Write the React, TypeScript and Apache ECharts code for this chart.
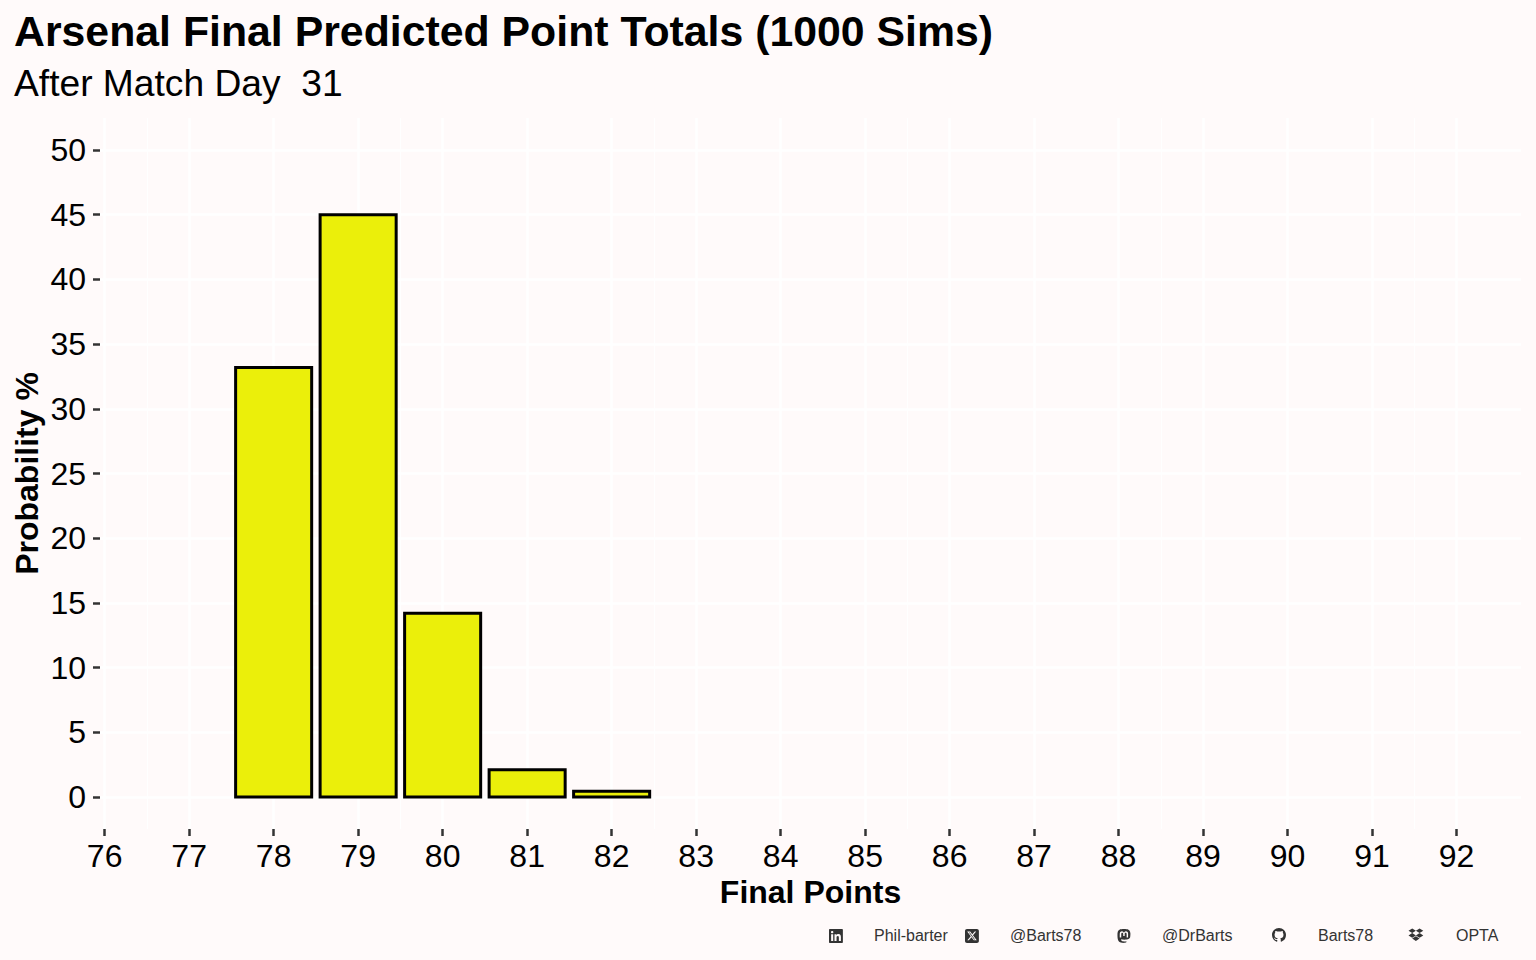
import React, { useEffect, useRef } from "react";
import * as echarts from "echarts";

const points = [78, 79, 80, 81, 82];
const probability = [33.2, 45, 14.2, 2.1, 0.45];
const xTicks = [76, 77, 78, 79, 80, 81, 82, 83, 84, 85, 86, 87, 88, 89, 90, 91, 92];
const yTicks = [0, 5, 10, 15, 20, 25, 30, 35, 40, 45, 50];
const titleText = "Arsenal Final Predicted Point Totals (1000 Sims)";
const subtitleText = "After Match Day  31";
const xName = "Final Points";
const yName = "Probability %";
const captions = ["Phil-barter", "@Barts78", "@DrBarts", "Barts78", "OPTA"];

const ICONS: Record<string, string> = {
  icLinkedin: "M416 32H31.9C14.3 32 0 46.5 0 64.3v383.4C0 465.5 14.3 480 31.9 480H416c17.6 0 32-14.5 32-32.3V64.3c0-17.8-14.4-32.3-32-32.3zM135.4 416H69V202.2h66.5V416zm-33.2-243c-21.3 0-38.5-17.3-38.5-38.5S80.9 96 102.2 96c21.2 0 38.5 17.3 38.5 38.5 0 21.3-17.2 38.5-38.5 38.5zm282.1 243h-66.4V312c0-24.8-.5-56.7-34.5-56.7-34.6 0-39.9 27-39.9 54.9V416h-66.4V202.2h63.7v29.2h.9c8.9-16.8 30.6-34.5 62.9-34.5 67.2 0 79.7 44.3 79.7 101.9V416z",
  icX: "M64 32C28.7 32 0 60.7 0 96V416c0 35.3 28.7 64 64 64H384c35.3 0 64-28.7 64-64V96c0-35.3-28.7-64-64-64H64zm297.1 84L257.3 234.6 379.4 396H283.8L209 298.1 123.3 396H75.8l111-126.9L69.7 116h98l67.7 89.5L313.6 116h47.5zM323.3 367.6L153.4 142.9H125.1L296.9 367.6h26.3z",
  icMastodon: "M433 179.11c0-97.2-63.71-125.7-63.71-125.7-62.52-28.7-228.56-28.4-290.48 0 0 0-63.72 28.5-63.72 125.7 0 115.7-6.6 259.4 105.63 289.1 40.51 10.7 75.32 13 103.33 11.4 50.81-2.8 79.32-18.1 79.32-18.1l-1.7-36.9s-36.31 11.4-77.12 10.1c-40.41-1.4-83-4.4-89.63-54a102.54 102.54 0 0 1-.9-13.9c85.63 20.9 158.65 9.1 178.75 6.7 56.12-6.7 105-41.3 111.23-72.9 9.8-49.8 9-121.5 9-121.5zm-75.12 125.2h-46.63v-114.2c0-49.7-64-51.6-64 6.9v62.5h-46.33V197c0-58.5-64-56.6-64-6.9v114.2H90.19c0-122.1-5.2-147.9 18.41-175 25.9-28.9 79.82-30.8 103.83 6.1l11.6 19.5 11.6-19.5c24.11-37.1 78.12-34.8 103.83-6.1 23.71 27.3 18.4 53 18.4 175z",
  icGithub: "M8 0C3.58 0 0 3.58 0 8c0 3.54 2.29 6.53 5.47 7.59.4.07.55-.17.55-.38 0-.19-.01-.82-.01-1.49-2.01.37-2.53-.49-2.69-.94-.09-.23-.48-.94-.82-1.13-.28-.15-.68-.52-.01-.53.63-.01 1.08.58 1.23.82.72 1.21 1.87.87 2.33.66.07-.52.28-.87.51-1.07-1.78-.2-3.64-.89-3.64-3.95 0-.87.31-1.59.82-2.15-.08-.2-.36-1.02.08-2.12 0 0 .67-.21 2.2.82.64-.18 1.32-.27 2-.27s1.36.09 2 .27c1.53-1.04 2.2-.82 2.2-.82.44 1.1.16 1.92.08 2.12.51.56.82 1.27.82 2.15 0 3.07-1.87 3.75-3.65 3.95.29.25.54.73.54 1.48 0 1.07-.01 1.93-.01 2.2 0 .21.15.46.55.38A8.01 8.01 0 0 0 16 8c0-4.42-3.58-8-8-8z",
  icDropbox: "M264.4 116.3l-132 84.3 132 84.3-132 84.3L0 284.1l132.3-84.3L0 116.3 132.3 32l132.1 84.3zM131.6 395.7l132-84.3 132 84.3-132 84.3-132-84.3zm132.8-111.6l132-84.3-132-83.6L395.7 32 528 116.3l-132.3 84.3L528 284.8l-132.3 84.3-131.3-85z",
};
Object.entries(ICONS).forEach(([k, d]) => {
  echarts.graphic.registerShape(k, echarts.graphic.extendPath(d, {}) as any);
});

const FONT = "'Liberation Sans', Arial, sans-serif";
const GRID = "#FFFFFF";

export default function App() {
  const ref = useRef<HTMLDivElement>(null);
  useEffect(() => {
    if (!ref.current) return;
    const chart = echarts.init(ref.current, undefined, { renderer: "svg" });
    const icon = (type: string, cx: number, box: number, size: number) => ({
      type,
      x: cx - size / 2,
      y: 935 - size / 2,
      scaleX: size / box,
      scaleY: size / box,
      style: { fill: "#333333" },
      silent: true,
    });
    const cap = (text: string, x: number) => ({
      type: "text",
      x,
      y: 935,
      style: { text, fill: "#333333", font: `16px ${FONT}`, textVerticalAlign: "middle" },
      silent: true,
    });
    chart.setOption({
      animation: false,
      backgroundColor: "#FFFAFA",
      title: [
        { text: titleText, left: 9, top: 4, textStyle: { fontFamily: FONT, fontSize: 42.8, fontWeight: "bold", color: "#000" } },
        { text: subtitleText, left: 9, top: 59, textStyle: { fontFamily: FONT, fontSize: 37.2, fontWeight: "normal", color: "#000" } },
      ],
      grid: { left: 100, right: 15, top: 118, bottom: 131 },
      xAxis: {
        type: "value",
        min: 75.945,
        max: 92.762,
        name: xName,
        nameLocation: "middle",
        nameGap: 47,
        nameMoveOverlap: false,
        nameTextStyle: { fontFamily: FONT, fontSize: 32, fontWeight: "bold", color: "#000" },
        axisLine: { show: false, onZero: false },
        axisTick: { show: true, length: 7, customValues: xTicks, lineStyle: { color: "#333", width: 2.5 } },
        axisLabel: { customValues: xTicks, fontFamily: FONT, fontSize: 32, color: "#000", margin: 11 },
        splitLine: { show: true, lineStyle: { color: GRID, width: 2.5 } },
        minorTick: { show: false, splitNumber: 2 },
        minorSplitLine: { show: true, lineStyle: { color: GRID, width: 1.2 } },
      },
      yAxis: {
        type: "value",
        min: -2.47,
        max: 52.47,
        name: yName,
        nameLocation: "middle",
        nameGap: 57,
        nameMoveOverlap: false,
        nameTextStyle: { fontFamily: FONT, fontSize: 32, fontWeight: "bold", color: "#000" },
        axisLine: { show: false, onZero: false },
        axisTick: { show: true, length: 7, customValues: yTicks, lineStyle: { color: "#333", width: 2.5 } },
        axisLabel: { customValues: yTicks, fontFamily: FONT, fontSize: 32, color: "#000", margin: 14 },
        splitLine: { show: true, lineStyle: { color: GRID, width: 2.5 } },
        minorTick: { show: false, splitNumber: 2 },
        minorSplitLine: { show: true, lineStyle: { color: GRID, width: 1.2 } },
      },
      series: [
        {
          type: "custom",
          data: points.map((p, i) => [p, probability[i]]),
          encode: { x: 0, y: 1 },
          silent: true,
          renderItem: (_: any, api: any) => {
            const x = api.value(0);
            const y = api.value(1);
            const a = api.coord([x - 0.45, y]);
            const b = api.coord([x + 0.45, 0]);
            return {
              type: "rect",
              shape: { x: a[0], y: a[1], width: b[0] - a[0], height: b[1] - a[1] },
              style: { fill: "#EBEF0A", stroke: "#000", lineWidth: 3 },
            };
          },
        },
      ],
      graphic: [
        icon("icLinkedin", 836, 448, 14),
        cap(captions[0], 874),
        icon("icX", 972, 448, 14),
        cap(captions[1], 1010),
        icon("icMastodon", 1124, 448, 14),
        cap(captions[2], 1162),
        icon("icGithub", 1279, 16, 14),
        cap(captions[3], 1318),
        icon("icDropbox", 1416, 528, 15),
        cap(captions[4], 1456),
      ],
    });
    return () => chart.dispose();
  }, []);
  return <div ref={ref} style={{ position: "absolute", left: 0, top: 0, width: 1536, height: 960 }} />;
}
